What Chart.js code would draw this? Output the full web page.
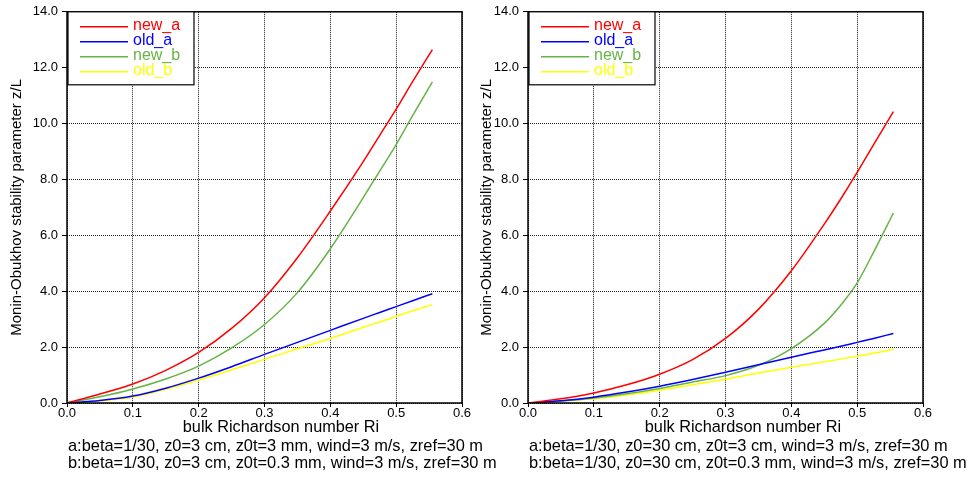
<!DOCTYPE html>
<html>
<head>
<meta charset="utf-8">
<script src="https://cdn.jsdelivr.net/npm/chart.js@4/dist/chart.umd.min.js"></script>
<style>
body{margin:0;background:#fff;width:970px;height:477px;position:relative;overflow:hidden;font-family:"Liberation Sans",Arial,sans-serif;}
.box{position:absolute;top:0;height:477px;}
#left{left:0;width:490px;}
#right{left:470px;width:500px;}
.cap{position:absolute;font-size:16.4px;line-height:17px;color:#000;white-space:nowrap;}
.xt{position:absolute;font-size:16.3px;line-height:17px;color:#000;white-space:nowrap;transform:translateX(-50%);}
</style>
</head>
<body>
<div class="box" id="left"><canvas id="chartA"></canvas></div>
<div class="box" id="right"><canvas id="chartB"></canvas></div>
<div class="xt" style="left:281px;top:418px">bulk Richardson number Ri</div>
<div class="xt" style="left:743px;top:418px">bulk Richardson number Ri</div>
<div class="cap" style="left:68px;top:437px">a:beta=1/30, z0=3 cm, z0t=3 mm, wind=3 m/s, zref=30 m<br>b:beta=1/30, z0=3 cm, z0t=0.3 mm, wind=3 m/s, zref=30 m</div>
<div class="cap" style="left:529px;top:437px">a:beta=1/30, z0=30 cm, z0t=3 cm, wind=3 m/s, zref=30 m<br>b:beta=1/30, z0=30 cm, z0t=0.3 mm, wind=3 m/s, zref=30 m</div>
<script>
// bulk Richardson number (x)
var ri = [0, 0.05, 0.1, 0.15, 0.2, 0.25, 0.3, 0.35, 0.4, 0.45, 0.475, 0.5, 0.525, 0.555];
var seriesNames = ['new_a', 'old_a', 'new_b', 'old_b'];
var seriesColors = ['#ff0000', '#0000ff', '#66b347', '#ffff00'];

// left panel: z0=3 cm
var newA1 = [0, 0.32, 0.68, 1.17, 1.81, 2.67, 3.77, 5.2, 6.87, 8.64, 9.58, 10.52, 11.5, 12.65];
var oldA1 = [0, 0.09, 0.25, 0.53, 0.89, 1.3, 1.74, 2.17, 2.6, 3.03, 3.24, 3.45, 3.66, 3.91];
var newB1 = [0, 0.22, 0.5, 0.86, 1.32, 1.97, 2.81, 3.95, 5.52, 7.35, 8.3, 9.25, 10.28, 11.49];
var oldB1 = [0, 0.07, 0.21, 0.49, 0.82, 1.19, 1.56, 1.94, 2.31, 2.71, 2.9, 3.1, 3.3, 3.52];

// right panel: z0=30 cm
var newA2 = [0, 0.15, 0.36, 0.65, 1.03, 1.55, 2.31, 3.35, 4.73, 6.4, 7.3, 8.25, 9.25, 10.43];
var oldA2 = [0, 0.08, 0.21, 0.39, 0.6, 0.84, 1.1, 1.37, 1.64, 1.9, 2.03, 2.17, 2.31, 2.49];
var newB2 = [0, 0.07, 0.18, 0.33, 0.52, 0.75, 0.98, 1.35, 1.95, 2.85, 3.5, 4.3, 5.4, 6.8];
var oldB2 = [0, 0.06, 0.15, 0.29, 0.46, 0.65, 0.85, 1.07, 1.28, 1.48, 1.57, 1.67, 1.78, 1.92];

var xTicks = [0, 0.1, 0.2, 0.3, 0.4, 0.5, 0.6];
var yTicks = [0, 2, 4, 6, 8, 10, 12, 14];

Chart.defaults.font.family = '"Liberation Sans", Arial, sans-serif';
Chart.defaults.color = '#000';

var frameAndLegend = {
    id: 'frameAndLegend',
    afterDraw: function(chart){
        var ctx = chart.ctx, a = chart.chartArea;
        ctx.save();
        ctx.strokeStyle = '#000';
        ctx.lineWidth = 1.5;
        ctx.strokeRect(a.left, a.top, a.right - a.left, a.bottom - a.top);
        // legend box
        var lx = a.left + 1, ly = a.top;
        ctx.fillStyle = '#fff';
        ctx.fillRect(lx, ly, 126, 73);
        ctx.lineWidth = 1.2;
        ctx.strokeRect(lx, ly, 126, 73);
        ctx.font = '16px "Liberation Sans", Arial, sans-serif';
        ctx.textBaseline = 'alphabetic';
        chart.data.datasets.forEach(function(ds, i){
            var y = ly + 15 + i * 15;
            ctx.strokeStyle = ds.borderColor;
            ctx.lineWidth = 1.5;
            ctx.beginPath();
            ctx.moveTo(lx + 12, y);
            ctx.lineTo(lx + 60, y);
            ctx.stroke();
            ctx.fillStyle = ds.borderColor;
            ctx.fillText(ds.label, lx + 65, y + 3);
        });
        ctx.restore();
    }
};

function makeChart(id, values, yWidth){
    var datasets = values.map(function(arr, i){
        return {
            label: seriesNames[i],
            data: arr.map(function(v, j){ return {x: ri[j], y: v}; }),
            borderColor: seriesColors[i],
            borderWidth: 1.5,
            pointRadius: 0,
            cubicInterpolationMode: 'monotone',
            fill: false
        };
    });
    return new Chart(document.getElementById(id), {
        type: 'line',
        data: {datasets: datasets},
        options: {
            responsive: true,
            maintainAspectRatio: false,
            animation: false,
            layout: {padding: {top: 9, left: 0, right: id == 'chartA' ? 28 : 47, bottom: 0}},
            plugins: {legend: {display: false}, tooltip: {enabled: false}},
            scales: {
                x: {
                    type: 'linear', min: 0, max: 0.6,
                    afterBuildTicks: function(s){ s.ticks = xTicks.map(function(v){ return {value: v}; }); },
                    afterFit: function(s){ s.height = 74; },
                    ticks: {callback: function(v){ return v.toFixed(1); }, font: {size: 13}, padding: -1, maxRotation: 0},
                    grid: {color: '#222', lineWidth: 1, tickLength: 4, tickColor: '#000', tickBorderDash: []},
                    border: {display: false, dash: [1, 1]}
                },
                y: {
                    min: 0, max: 14,
                    afterBuildTicks: function(s){ s.ticks = yTicks.map(function(v){ return {value: v}; }); },
                    afterFit: function(s){ s.width = yWidth; },
                    ticks: {callback: function(v){ return v.toFixed(1); }, font: {size: 13}, padding: 4},
                    grid: {color: '#222', lineWidth: 1, tickLength: 5, tickColor: '#000', tickBorderDash: []},
                    border: {display: false, dash: [1, 1]},
                    title: {display: true, text: 'Monin-Obukhov stability parameter z/L', font: {size: 15}, padding: {top: 8, bottom: 0}}
                }
            }
        },
        plugins: [frameAndLegend]
    });
}

makeChart('chartA', [newA1, oldA1, newB1, oldB1], 67);
makeChart('chartB', [newA2, oldA2, newB2, oldB2], 58);
</script>
</body>
</html>
